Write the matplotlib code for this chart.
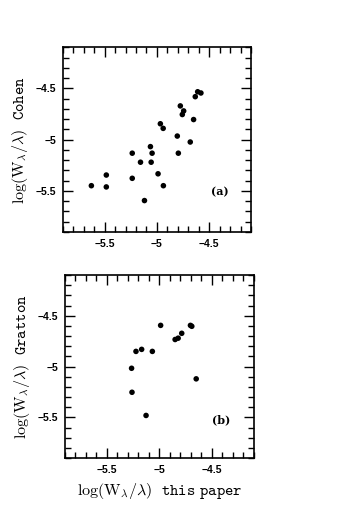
import matplotlib
matplotlib.use('Agg')
import matplotlib.pyplot as plt
from matplotlib.ticker import MultipleLocator, FuncFormatter

plt.rcParams['mathtext.fontset'] = 'cm'

# panel (a): this paper vs Cohen
cohen_x = [-5.627, -5.484, -5.484, -5.236, -5.236, -5.157, -5.119, -5.062,
           -5.046, -5.055, -4.989, -4.938, -4.967, -4.940, -4.805, -4.795,
           -4.776, -4.744, -4.757, -4.681, -4.649, -4.633, -4.610, -4.579]
cohen_y = [-5.449, -5.345, -5.461, -5.132, -5.377, -5.220, -5.594, -5.068,
           -5.132, -5.220, -5.333, -5.449, -4.845, -4.890, -4.965, -5.132,
           -4.671, -4.720, -4.755, -5.023, -4.804, -4.581, -4.533, -4.545]

# panel (b): this paper vs Gratton
gratton_x = [-4.988, -4.704, -4.691, -4.787, -4.821, -4.850, -5.223, -5.169,
             -5.067, -5.265, -5.261, -5.127, -4.649]
gratton_y = [-4.595, -4.595, -4.604, -4.673, -4.721, -4.734, -4.851, -4.831,
             -4.851, -5.017, -5.253, -5.481, -5.121]

lims = (-5.9, -4.1)


def fmt(v, pos):
    return f'{v:g}'.replace('-', '\u2212')


def style_axes(ax):
    ax.set_xlim(lims)
    ax.set_ylim(lims)
    for axis in (ax.xaxis, ax.yaxis):
        axis.set_major_locator(MultipleLocator(0.5))
        axis.set_minor_locator(MultipleLocator(0.1))
        axis.set_major_formatter(FuncFormatter(fmt))
    ax.tick_params(which='both', direction='in', top=True, right=True,
                   width=1.0, labelsize=7.5)
    ax.tick_params(which='major', length=7, pad=5)
    ax.tick_params(which='minor', length=4)
    for lab in ax.get_xticklabels() + ax.get_yticklabels():
        lab.set_family('Liberation Sans')
        lab.set_fontweight('bold')
    for sp in ax.spines.values():
        sp.set_linewidth(1.2)


fig = plt.figure(figsize=(3.53, 5.32), dpi=100)

ax1 = fig.add_axes([0.178, 0.564, 0.533, 0.347])
ax1.scatter(cohen_x, cohen_y, s=16, c='black', edgecolors='none')
style_axes(ax1)
ax1.set_ylabel(r'$\mathrm{log(W_\lambda/\lambda)}\ \ \mathtt{Cohen}$', fontsize=11.5)
ax1.text(-4.4, -5.51, '(a)', fontsize=8, fontweight='bold', family='DejaVu Serif',
         ha='center', va='center')

ax2 = fig.add_axes([0.184, 0.139, 0.535, 0.344])
ax2.scatter(gratton_x, gratton_y, s=16, c='black', edgecolors='none')
style_axes(ax2)
ax2.set_ylabel(r'$\mathrm{log(W_\lambda/\lambda)}\ \ \mathtt{Gratton}$', fontsize=11.5)
ax2.set_xlabel(r'$\mathrm{log(W_\lambda/\lambda)}\ \ \mathtt{this\ paper}$', fontsize=11.5)
ax2.text(-4.41, -5.52, '(b)', fontsize=8, fontweight='bold', family='DejaVu Serif',
         ha='center', va='center')

fig.savefig('out.png', dpi=100)
